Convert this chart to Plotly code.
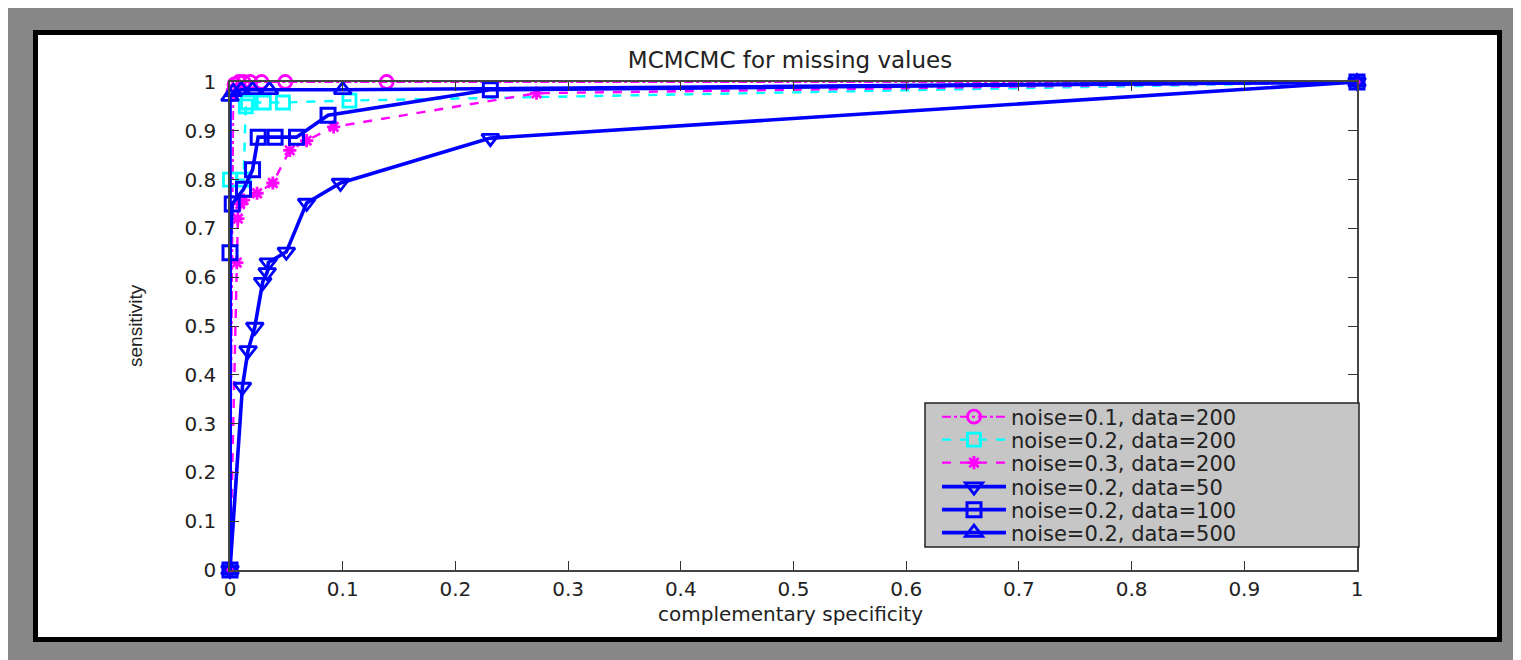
import plotly.graph_objects as go

# ---------------- data ----------------
title_text = "MCMCMC for missing values"
x_label = "complementary specificity"
y_label = "sensitivity"
tick_vals = [0, 0.1, 0.2, 0.3, 0.4, 0.5, 0.6, 0.7, 0.8, 0.9, 1]
tick_text = ["0", "0.1", "0.2", "0.3", "0.4", "0.5", "0.6", "0.7", "0.8", "0.9", "1"]

names = [
    "noise=0.1, data=200",
    "noise=0.2, data=200",
    "noise=0.3, data=200",
    "noise=0.2, data=50",
    "noise=0.2, data=100",
    "noise=0.2, data=500",
]

n01_d200_x = [0, 0.003, 0.004, 0.008, 0.012, 0.018, 0.028, 0.049, 0.139, 1]
n01_d200_y = [0, 0.98, 0.995, 1.0, 1.0, 1.0, 1.0, 1.0, 1.0, 1.0]

n02_d200_x = [0, 0, 0.012, 0.014, 0.016, 0.03, 0.047, 0.106, 1]
n02_d200_y = [0, 0.80, 0.80, 0.95, 0.958, 0.958, 0.958, 0.962, 1.0]

n03_d200_x = [0, 0.006, 0.007, 0.009, 0.012, 0.024, 0.038, 0.053, 0.068, 0.092, 0.272, 1]
n03_d200_y = [0, 0.63, 0.72, 0.75, 0.758, 0.772, 0.793, 0.86, 0.88, 0.908, 0.977, 1.0]

n02_d50_x = [0, 0.011, 0.016, 0.022, 0.029, 0.033, 0.034, 0.05, 0.068, 0.098, 0.231, 1]
n02_d50_y = [0, 0.375, 0.45, 0.498, 0.59, 0.61, 0.63, 0.652, 0.752, 0.793, 0.885, 1.0]

n02_d100_x = [0, 0, 0.002, 0.012, 0.02, 0.025, 0.04, 0.059, 0.087, 0.231, 1]
n02_d100_y = [0, 0.65, 0.75, 0.78, 0.82, 0.887, 0.887, 0.887, 0.932, 0.984, 1.0]

n02_d500_x = [0, 0, 0.003, 0.01, 0.02, 0.035, 0.1, 1]
n02_d500_y = [0, 0.97, 0.98, 0.984, 0.984, 0.984, 0.984, 1.0]

series_x = [n01_d200_x, n02_d200_x, n03_d200_x, n02_d50_x, n02_d100_x, n02_d500_x]
series_y = [n01_d200_y, n02_d200_y, n03_d200_y, n02_d50_y, n02_d100_y, n02_d500_y]

# ---------------- styles ----------------
MAG = "#ff00ff"
CYA = "#00ffff"
BLU = "#0000ff"
styles = [
    dict(color=MAG, dash="dashdot", width=2.0, symbol="circle-open", size=13, mlw=2.8),
    dict(color=CYA, dash="dash", width=2.4, symbol="square-open", size=13, mlw=2.8),
    dict(color=MAG, dash="dash", width=2.4, symbol="asterisk-open", size=11, mlw=2.8),
    dict(color=BLU, dash="solid", width=3.6, symbol="triangle-down-open", size=15, mlw=2.8),
    dict(color=BLU, dash="solid", width=3.6, symbol="square-open", size=14, mlw=3.0),
    dict(color=BLU, dash="solid", width=3.6, symbol="triangle-up-open", size=15, mlw=2.8),
]

# page has an 8px body margin: figure pixel = page pixel - OFF
OFF = 8
W, H = 1521 - OFF, 660 - OFF
L, R, T, B = 230 - OFF, 1357 - OFF, 82 - OFF, 570 - OFF  # plot area, figure px
PW, PH = R - L, B - T


def px(page_x):
    return (page_x - OFF - L) / PW


def py(page_y):
    return (B - (page_y - OFF)) / PH


fig = go.Figure()
legend_rows = [417, 440, 463, 487, 510, 533]  # page y of legend rows
legend_ids = ["legend", "legend2", "legend3", "legend4", "legend5", "legend6"]
for name, xs, ys, st, lid in zip(names, series_x, series_y, styles, legend_ids):
    fig.add_trace(go.Scatter(
        x=xs, y=ys, name=name, mode="lines+markers", cliponaxis=False,
        legend=lid,
        line=dict(color=st["color"], dash=st["dash"], width=st["width"]),
        marker=dict(symbol=st["symbol"], size=st["size"], color=st["color"],
                    line=dict(color=st["color"], width=st["mlw"])),
    ))

TICKFONT = dict(family="DejaVu Sans", size=20, color="#222222")

shapes = [
    # white figure with black border
    dict(type="rect", xref="paper", yref="paper", layer="below",
         x0=px(35.5), x1=px(1499.5), y0=py(32.5), y1=py(639.5),
         fillcolor="#ffffff", line=dict(color="#000000", width=5)),
    # legend box
    dict(type="rect", xref="paper", yref="paper", layer="above",
         x0=px(925), x1=px(1359), y0=py(403), y1=py(547),
         fillcolor="#c6c6c6", line=dict(color="#222222", width=1.5)),
]

annotations = [
    dict(text=x_label, xref="paper", yref="paper", x=px(790), y=py(614),
         xanchor="center", yanchor="middle", showarrow=False,
         font=dict(family="DejaVu Sans", size=20, color="#222222")),
    dict(text=y_label, xref="paper", yref="paper", x=px(135), y=py(326),
         xanchor="center", yanchor="middle", showarrow=False, textangle=-90,
         font=dict(family="Liberation Sans Narrow, Liberation Sans", size=19, color="#222222")),
]

legend_font = dict(family="DejaVu Sans", size=21, color="#222222")
layout_legends = {}
for lid, row in zip(legend_ids, legend_rows):
    layout_legends[lid] = dict(
        x=px(937), y=py(row), xanchor="left", yanchor="middle",
        bgcolor="rgba(0,0,0,0)", borderwidth=0, font=legend_font,
        itemwidth=64, tracegroupgap=0,
    )

fig.update_layout(
    width=W, height=H,
    margin=dict(l=L, r=W - R, t=T, b=H - B, pad=0),
    paper_bgcolor="#878787",
    plot_bgcolor="rgba(0,0,0,0)",
    title=dict(text=title_text, x=px(790), xref="paper", xanchor="center",
               y=1 - (60 - OFF) / H, yref="container", yanchor="middle",
               font=dict(family="DejaVu Sans", size=23, color="#222222")),
    shapes=shapes,
    annotations=annotations,
    showlegend=True,
    **layout_legends,
)

fig.update_xaxes(range=[0, 1], tickvals=tick_vals, ticktext=tick_text,
                 showgrid=False, zeroline=False, ticks="inside", ticklen=9,
                 tickcolor="#333333", showline=True, linecolor="#444444",
                 linewidth=1.5, mirror="ticks", tickfont=TICKFONT,
                 ticklabelstandoff=0)
fig.update_yaxes(range=[0, 1], tickvals=tick_vals, ticktext=tick_text,
                 showgrid=False, zeroline=False, ticks="inside", ticklen=9,
                 tickcolor="#333333", showline=True, linecolor="#444444",
                 linewidth=1.5, mirror="ticks", tickfont=TICKFONT,
                 ticklabelstandoff=8)

fig.write_html("out.html")
